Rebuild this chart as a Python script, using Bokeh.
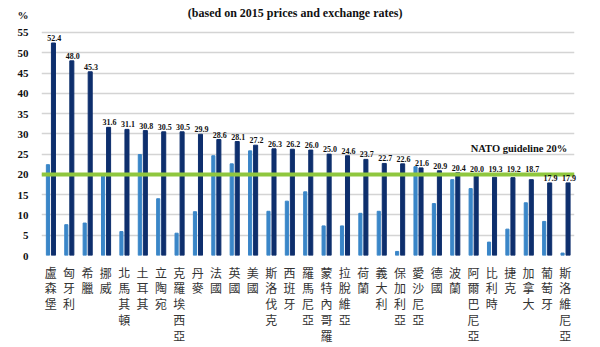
from bokeh.plotting import figure
from bokeh.models import ColumnDataSource, FactorRange, Span, Label, FixedTicker
from bokeh.transform import dodge
from bokeh.core.properties import value
from bokeh.embed import file_html
from bokeh.resources import INLINE

countries = ["盧森堡", "匈牙利", "希臘", "挪威", "北馬其頓", "土耳其", "立陶宛", "克羅埃西亞",
             "丹麥", "法國", "英國", "美國", "斯洛伐克", "西班牙", "羅馬尼亞", "蒙特內哥羅",
             "拉脫維亞", "荷蘭", "義大利", "保加利亞", "愛沙尼亞", "德國", "波蘭", "阿爾巴尼亞",
             "比利時", "捷克", "加拿大", "葡萄牙", "斯洛維尼亞"]
share_2014 = [22.4, 7.6, 8.0, 19.6, 5.9, 24.9, 14.0, 5.5, 10.8, 24.6, 22.6, 25.8, 10.9, 13.4,
              15.7, 7.3, 7.3, 10.4, 10.9, 1.0, 21.9, 12.8, 18.7, 16.5, 3.3, 6.5, 13.0, 8.4, 0.6]
share_2019 = [52.4, 48.0, 45.3, 31.6, 31.1, 30.8, 30.5, 30.5, 29.9, 28.6, 28.1, 27.2, 26.3, 26.2,
              26.0, 25.0, 24.6, 23.7, 22.7, 22.6, 21.6, 20.9, 20.4, 20.0, 19.3, 19.2, 18.7, 17.9, 17.9]
y_ticks = [0, 5, 10, 15, 20, 25, 30, 35, 40, 45, 50, 55]
guideline = 20
unit_pos = 59.2
title_text = "(based on 2015 prices and exchange rates)"

factors = ["\n".join(c) for c in countries]
# labels of bars just under the guideline are lifted above it, as in the original
label_y = [guideline if 18 <= v < guideline else v for v in share_2019]
src = ColumnDataSource(dict(
    x=factors, a=share_2014, b=share_2019, ly=label_y,
    lab=["%.1f" % v for v in share_2019],
))

serif = "Liberation Serif"

p = figure(width=600, height=347, x_range=FactorRange(*factors), y_range=(0, 61.4),
           output_backend="svg", toolbar_location=None,
           min_border_left=41, min_border_right=26, min_border_top=6, min_border_bottom=92)
p.outline_line_color = None
p.background_fill_color = "white"

p.vbar(x=dodge("x", -0.15, range=p.x_range), top="a", width=0.17, source=src,
       color="#3a86c8")
p.vbar(x=dodge("x", 0.15, range=p.x_range), top="b", width=0.22, source=src,
       color="#0e2f6d")
p.text(x=dodge("x", 0.2, range=p.x_range), y="ly", text="lab", source=src,
       text_font=value(serif), text_font_style="bold", text_font_size="8px",
       text_align="center", text_baseline="bottom", y_offset=-2, text_color="#111111",
       level="overlay")

p.add_layout(Span(location=guideline, dimension="width", line_color="#8fc73e", line_width=4))
p.add_layout(Label(x=28.6, y=guideline + 6.4, text="NATO guideline 20%", text_font=serif,
                   text_font_style="bold", text_font_size="10.5px", text_align="right",
                   text_baseline="middle", text_color="#111111"))
p.add_layout(Label(x=13.8, y=59.9, text=title_text, text_font=serif,
                   text_font_style="bold", text_font_size="12px", text_align="center",
                   text_baseline="middle", text_color="#111111"))

p.xgrid.grid_line_color = None
p.ygrid.ticker = FixedTicker(ticks=y_ticks)
p.ygrid.grid_line_color = "#d4d4d4"
p.ygrid.grid_line_width = 1.5
p.yaxis.ticker = FixedTicker(ticks=y_ticks + [unit_pos])
p.yaxis.major_label_overrides = {unit_pos: "%"}
p.yaxis.axis_line_color = None
p.yaxis.major_tick_line_color = None
p.yaxis.minor_tick_line_color = None
p.yaxis.major_label_text_font = serif
p.yaxis.major_label_text_font_style = "bold"
p.yaxis.major_label_text_font_size = "11px"
p.yaxis.major_label_text_color = "#111111"
p.yaxis.major_label_standoff = 7

p.xaxis.axis_line_color = None
p.xaxis.major_tick_line_color = None
p.xaxis.minor_tick_line_color = None
p.xaxis.major_label_text_font = "Noto Sans CJK TC"
p.xaxis.major_label_text_font_size = "12px"
p.xaxis.major_label_text_color = "#333333"
p.xaxis.major_label_text_line_height = 0.94
p.xaxis.major_label_standoff = 2
p.x_range.range_padding = 0
p.x_range.group_padding = 0

open("out.html", "w").write(file_html(p, INLINE))
